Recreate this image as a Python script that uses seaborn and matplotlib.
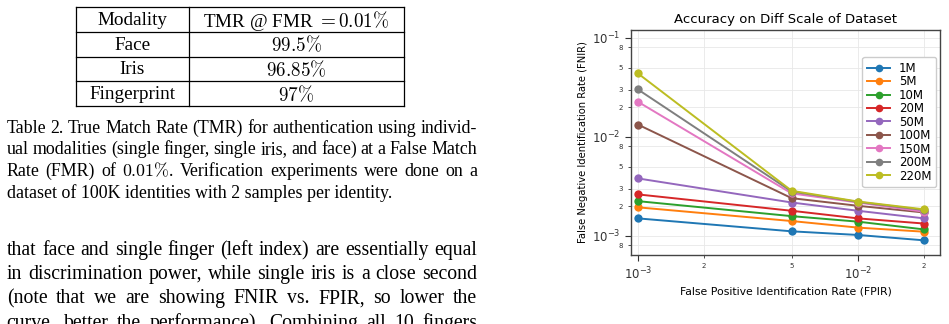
import numpy as np
import pandas as pd
import matplotlib
matplotlib.use("Agg")
import matplotlib.pyplot as plt
import seaborn as sns
from matplotlib.ticker import LogLocator, FuncFormatter
from matplotlib.lines import Line2D

# ---------------- data ----------------
fpir = [0.001, 0.005, 0.01, 0.02]
scales = ["1M", "5M", "10M", "20M", "50M", "100M", "150M", "200M", "220M"]
fnir_1M = [0.00150, 0.00111, 0.00102, 0.00090]
fnir_5M = [0.00194, 0.00141, 0.00121, 0.00110]
fnir_10M = [0.00224, 0.00158, 0.00139, 0.00116]
fnir_20M = [0.00262, 0.00179, 0.00150, 0.00133]
fnir_50M = [0.00380, 0.00217, 0.00179, 0.00150]
fnir_100M = [0.0133, 0.00240, 0.00201, 0.00172]
fnir_150M = [0.0226, 0.00268, 0.00217, 0.00175]
fnir_200M = [0.0301, 0.00280, 0.00220, 0.00182]
fnir_220M = [0.0437, 0.00285, 0.00222, 0.00185]
series = [fnir_1M, fnir_5M, fnir_10M, fnir_20M, fnir_50M,
          fnir_100M, fnir_150M, fnir_200M, fnir_220M]

table_header = ["Modality", r"TMR @ FMR $= 0.01\%$"]
table_modality = ["Face", "Iris", "Fingerprint"]
table_tmr = [r"$99.5\%$", r"$96.85\%$", r"$97\%$"]

caption_lines = [
    "Table 2. True Match Rate (TMR) for authentication using individ-",
    "ual modalities (single finger, single iris, and face) at a False Match",
    r"Rate (FMR) of $0.01\%$.  Verification experiments were done on a",
    "dataset of 100K identities with 2 samples per identity.",
]
body_lines = [
    "that face and single finger (left index) are essentially equal",
    "in discrimination power, while single iris is a close second",
    "(note that we are showing FNIR vs.  FPIR, so lower the",
    "curve, better the performance).  Combining all 10 fingers",
]

df = pd.DataFrame({
    "FPIR": np.tile(fpir, len(scales)),
    "FNIR": np.concatenate(series),
    "Scale": np.repeat(scales, len(fpir)),
})

# ---------------- figure ----------------
W, H = 949, 324
plt.rcParams["mathtext.fontset"] = "cm"
fig = plt.figure(figsize=(W / 100, H / 100), dpi=100)
renderer = fig.canvas.get_renderer()

def fx(x):
    return x / W

def fy(y):
    return 1 - y / H

serif = "Liberation Serif"

# ---- table ----
tl, tm, tr = 76, 189, 404
rows_y = [7.3, 32, 56.7, 81.3, 106]
lw = 0.9
for y in rows_y:
    fig.add_artist(Line2D([fx(tl), fx(tr)], [fy(y), fy(y)], color="black", lw=lw))
for x in (tl, tm, tr):
    fig.add_artist(Line2D([fx(x), fx(x)], [fy(rows_y[0]), fy(rows_y[-1])], color="black", lw=lw))

tfs = 13.8
cells = [table_header] + [[m, v] for m, v in zip(table_modality, table_tmr)]
for i, (c1, c2) in enumerate(cells):
    yc = (rows_y[i] + rows_y[i + 1]) / 2 + 1
    fig.text(fx((tl + tm) / 2), fy(yc), c1, ha="center", va="center", family=serif, fontsize=tfs)
    fig.text(fx((tm + tr) / 2), fy(yc), c2, ha="center", va="center", family=serif, fontsize=tfs)

# ---- justified text helper ----
def text_width(s, size):
    t = fig.text(0, 0, s, family=serif, fontsize=size)
    w = t.get_window_extent(renderer).width
    t.remove()
    return w

def draw_line(s, x0, x1, ybase, size, justify=True):
    words = s.split()
    if not justify or len(words) < 2:
        fig.text(fx(x0), fy(ybase), s, family=serif, fontsize=size, va="baseline")
        return
    widths = [text_width(w, size) for w in words]
    gap = (x1 - x0 - sum(widths)) / (len(words) - 1)
    x = x0
    for w, wd in zip(words, widths):
        fig.text(fx(x), fy(ybase), w, family=serif, fontsize=size, va="baseline")
        x += wd + gap

cap_target = 384.0
cap_fs = 10 * cap_target / text_width(caption_lines[3], 10)
cap_base = [132.7, 154.4, 176.1, 197.8]
for i, line in enumerate(caption_lines):
    draw_line(line, 6.7, 477, cap_base[i], cap_fs, justify=(i < 3))

body_fs = cap_fs * 1.11
body_base = [255.0, 279.2, 303.4, 327.6]
for line, yb in zip(body_lines, body_base):
    draw_line(line, 6.7, 477, yb, body_fs, justify=True)

# ---------------- chart ----------------
ax = fig.add_axes([fx(631), fy(255), (940 - 631) / W, (255 - 30) / H])
sns.lineplot(data=df, x="FPIR", y="FNIR", hue="Scale", hue_order=scales,
             palette="tab10", marker="o", markersize=6, markeredgewidth=0,
             linewidth=1.4, sort=False, ax=ax)
ax.set_xscale("log")
ax.set_yscale("log")
ax.set_xlim(9.3e-4, 0.0236)
ax.set_ylim(6.4e-4, 0.12)

ax.xaxis.set_major_locator(LogLocator(base=10))
ax.yaxis.set_major_locator(LogLocator(base=10))
ax.xaxis.set_minor_locator(LogLocator(base=10, subs=[2, 5]))
ax.yaxis.set_minor_locator(LogLocator(base=10, subs=[2, 3, 5, 8]))

def minor_fmt(v, pos):
    e = np.floor(np.log10(v) + 1e-9)
    return str(int(round(v / 10 ** e)))

ax.xaxis.set_minor_formatter(FuncFormatter(minor_fmt))
ax.yaxis.set_minor_formatter(FuncFormatter(minor_fmt))
ax.tick_params(which="major", labelsize=8.5, length=4, width=0.8, colors="#333333")
ax.tick_params(which="minor", labelsize=5, length=2.5, width=0.6, colors="#333333")

ax.grid(True, which="both", color="#e8e8e8", linewidth=0.6)
ax.set_axisbelow(True)
for sp in ax.spines.values():
    sp.set_color("#444444")
    sp.set_linewidth(1.0)

ax.set_title("Accuracy on Diff Scale of Dataset", fontsize=9.5, pad=5)
ax.set_xlabel("False Positive Identification Rate (FPIR)", fontsize=7.8, labelpad=3)
ax.set_ylabel("False Negative Identification Rate (FNIR)", fontsize=7.2, labelpad=3)

handles, labels = ax.get_legend_handles_labels()
for h in handles:
    h.set_markersize(5.5)
ax.legend(handles, labels, loc="upper right", bbox_to_anchor=(0.987, 0.88),
          borderaxespad=0, fontsize=8.5, frameon=True, framealpha=1,
          edgecolor="#cccccc", labelspacing=0.04, handlelength=2.0,
          borderpad=0.4, handletextpad=0.7)

fig.savefig("out.png", dpi=100)
